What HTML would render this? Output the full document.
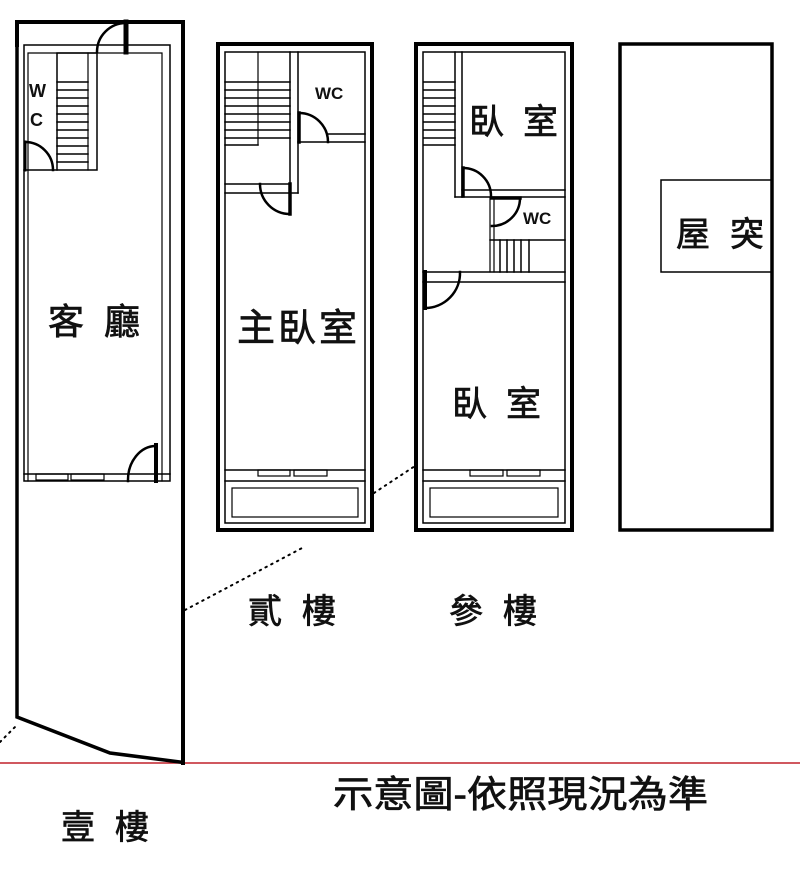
<!DOCTYPE html>
<html><head><meta charset="utf-8"><style>
html,body{margin:0;padding:0;background:#fff;}
svg{display:block;}
text{font-family:"Liberation Sans","Noto Sans CJK TC",sans-serif;fill:#111;}
.cj{stroke:#111;stroke-width:0.7;}
</style></head><body>
<svg width="800" height="883" viewBox="0 0 800 883" xmlns="http://www.w3.org/2000/svg">
<g fill="none" stroke="#000" stroke-linecap="square">
<line x1="0" y1="763" x2="800" y2="763" stroke="#c0202a" stroke-width="1.5"/>
<line x1="185" y1="610" x2="304" y2="547" stroke-dasharray="1.5 5" stroke-width="2" stroke-linecap="round"/>
<line x1="374" y1="493" x2="415" y2="466" stroke-dasharray="1.5 5" stroke-width="2" stroke-linecap="round"/>
<line x1="0" y1="742" x2="17" y2="725" stroke-dasharray="1.5 5" stroke-width="2" stroke-linecap="round"/>

<path d="M17 45 L17 22 L183 22 L183 763" stroke-width="4"/>
<path d="M17 22 L17 717 L110 753 L180 762" stroke-width="3.5"/>
<rect x="24" y="45" width="146" height="436" stroke-width="1.5"/>
<path d="M28 481 L28 53 L162 53 L162 481" stroke-width="1.2"/>
<line x1="24" y1="474" x2="170" y2="474" stroke-width="1.5"/>
<rect x="57" y="53" width="40" height="117" stroke-width="1.5"/>
<line x1="88" y1="53" x2="88" y2="170" stroke-width="1.2"/>
<g stroke-width="1.5">
<line x1="57" y1="82" x2="88" y2="82"/><line x1="57" y1="90" x2="88" y2="90"/><line x1="57" y1="98" x2="88" y2="98"/><line x1="57" y1="106" x2="88" y2="106"/><line x1="57" y1="114" x2="88" y2="114"/><line x1="57" y1="122" x2="88" y2="122"/><line x1="57" y1="130" x2="88" y2="130"/><line x1="57" y1="138" x2="88" y2="138"/><line x1="57" y1="146" x2="88" y2="146"/><line x1="57" y1="154" x2="88" y2="154"/><line x1="57" y1="162" x2="88" y2="162"/>
</g>
<line x1="24" y1="170" x2="57" y2="170" stroke-width="1.5"/>
<path d="M25 142 A28 28 0 0 1 53 170" stroke-width="2.5"/>
<line x1="25" y1="142" x2="25" y2="170" stroke-width="3"/>
<line x1="126" y1="22" x2="126" y2="52" stroke-width="5"/>
<path d="M97 52 A29 29 0 0 1 126 23" stroke-width="2.5"/>
<rect x="36" y="474" width="32" height="6" stroke-width="1.2"/>
<rect x="71" y="474" width="33" height="6" stroke-width="1.2"/>
<line x1="156" y1="445" x2="156" y2="481" stroke-width="4"/>
<path d="M128 481 A28 34 0 0 1 156 446" stroke-width="2.5"/>

<rect x="218" y="44" width="154" height="486" stroke-width="4"/>
<rect x="225" y="52" width="140" height="471" stroke-width="1.5"/>
<line x1="225" y1="470" x2="365" y2="470" stroke-width="1.5"/>
<line x1="225" y1="481" x2="365" y2="481" stroke-width="1.5"/>
<rect x="232" y="488" width="126" height="29" stroke-width="1.2"/>
<rect x="258" y="470" width="32" height="6" stroke-width="1.2"/>
<rect x="294" y="470" width="33" height="6" stroke-width="1.2"/>
<line x1="258" y1="52" x2="258" y2="145" stroke-width="1.2"/>
<g stroke-width="1.5">
<line x1="225" y1="82" x2="290" y2="82"/><line x1="225" y1="90" x2="290" y2="90"/><line x1="225" y1="98" x2="290" y2="98"/><line x1="225" y1="106" x2="290" y2="106"/><line x1="225" y1="114" x2="290" y2="114"/><line x1="225" y1="122" x2="290" y2="122"/><line x1="225" y1="130" x2="290" y2="130"/><line x1="225" y1="138" x2="290" y2="138"/><line x1="225" y1="145" x2="258" y2="145"/>
</g>
<line x1="290" y1="52" x2="290" y2="193" stroke-width="1.5"/>
<line x1="298" y1="52" x2="298" y2="193" stroke-width="1.5"/>
<line x1="225" y1="184" x2="290" y2="184" stroke-width="1.5"/>
<line x1="225" y1="193" x2="298" y2="193" stroke-width="1.5"/>
<line x1="290" y1="184" x2="290" y2="214" stroke-width="3.5"/>
<path d="M260 184 A30 30 0 0 0 290 214" stroke-width="2.5"/>
<line x1="328" y1="134" x2="365" y2="134" stroke-width="1.5"/>
<line x1="298" y1="142" x2="365" y2="142" stroke-width="1.5"/>
<line x1="299" y1="113" x2="299" y2="142" stroke-width="3.5"/>
<path d="M299 113 A29 29 0 0 1 328 142" stroke-width="2.5"/>

<rect x="416" y="44" width="156" height="486" stroke-width="4"/>
<rect x="423" y="52" width="142" height="471" stroke-width="1.5"/>
<line x1="423" y1="470" x2="565" y2="470" stroke-width="1.5"/>
<line x1="423" y1="481" x2="565" y2="481" stroke-width="1.5"/>
<rect x="430" y="488" width="128" height="29" stroke-width="1.2"/>
<rect x="470" y="470" width="33" height="6" stroke-width="1.2"/>
<rect x="507" y="470" width="33" height="6" stroke-width="1.2"/>
<g stroke-width="1.5">
<line x1="424" y1="82" x2="455" y2="82"/><line x1="424" y1="90" x2="455" y2="90"/><line x1="424" y1="98" x2="455" y2="98"/><line x1="424" y1="106" x2="455" y2="106"/><line x1="424" y1="114" x2="455" y2="114"/><line x1="424" y1="122" x2="455" y2="122"/><line x1="424" y1="130" x2="455" y2="130"/><line x1="424" y1="138" x2="455" y2="138"/><line x1="424" y1="145" x2="455" y2="145"/>
</g>
<line x1="455" y1="52" x2="455" y2="197" stroke-width="1.5"/>
<line x1="462" y1="52" x2="462" y2="197" stroke-width="1.5"/>
<line x1="462" y1="190" x2="565" y2="190" stroke-width="1.5"/>
<line x1="455" y1="197" x2="565" y2="197" stroke-width="1.5"/>
<line x1="463" y1="168" x2="463" y2="196" stroke-width="3.5"/>
<path d="M463 168 A28 28 0 0 1 491 196" stroke-width="2.5"/>
<line x1="490" y1="197" x2="490" y2="272" stroke-width="1.2"/>
<line x1="494" y1="197" x2="494" y2="272" stroke-width="1.2"/>
<line x1="490" y1="240" x2="565" y2="240" stroke-width="1.5"/>
<line x1="492" y1="198" x2="520" y2="198" stroke-width="3.5"/>
<path d="M520 198 A28 28 0 0 1 492 226" stroke-width="2.5"/>
<g stroke-width="1.5">
<line x1="500" y1="240" x2="500" y2="272"/><line x1="507" y1="240" x2="507" y2="272"/><line x1="514" y1="240" x2="514" y2="272"/><line x1="521" y1="240" x2="521" y2="272"/><line x1="529" y1="240" x2="529" y2="272"/>
</g>
<line x1="423" y1="272" x2="565" y2="272" stroke-width="1.5"/>
<line x1="423" y1="282" x2="565" y2="282" stroke-width="1.5"/>
<line x1="425" y1="272" x2="425" y2="308" stroke-width="4"/>
<path d="M460 272 A35 35 0 0 1 425 308" stroke-width="2.5"/>

<rect x="620" y="44" width="152" height="486" stroke-width="3.5"/>
<path d="M772 180 L661 180 L661 272 L772 272" stroke-width="1.5"/>
</g>

<text x="29" y="97" font-size="18" font-weight="bold">W</text>
<text x="30" y="126" font-size="18" font-weight="bold">C</text>
<text x="315" y="99" font-size="17" font-weight="bold">WC</text>
<text x="523" y="224" font-size="17" font-weight="bold">WC</text>
<g class="cj">
<text x="48" y="334" font-size="36" textLength="92" lengthAdjust="spacing">客廳</text>
<text x="237" y="341" font-size="38" textLength="120" lengthAdjust="spacing">主臥室</text>
<text x="469" y="134" font-size="35" textLength="89" lengthAdjust="spacing">臥室</text>
<text x="452" y="416" font-size="35" textLength="89" lengthAdjust="spacing">臥室</text>
<text x="676" y="246" font-size="34" textLength="88" lengthAdjust="spacing">屋突</text>
<text x="248" y="623" font-size="34" textLength="88" lengthAdjust="spacing">貳樓</text>
<text x="449" y="623" font-size="34" textLength="88" lengthAdjust="spacing">參樓</text>
<text x="61" y="839" font-size="34" textLength="88" lengthAdjust="spacing">壹樓</text>
<text x="333" y="807" font-size="37" textLength="375" lengthAdjust="spacingAndGlyphs">示意圖-依照現況為準</text>
</g>
</svg>
</body></html>
